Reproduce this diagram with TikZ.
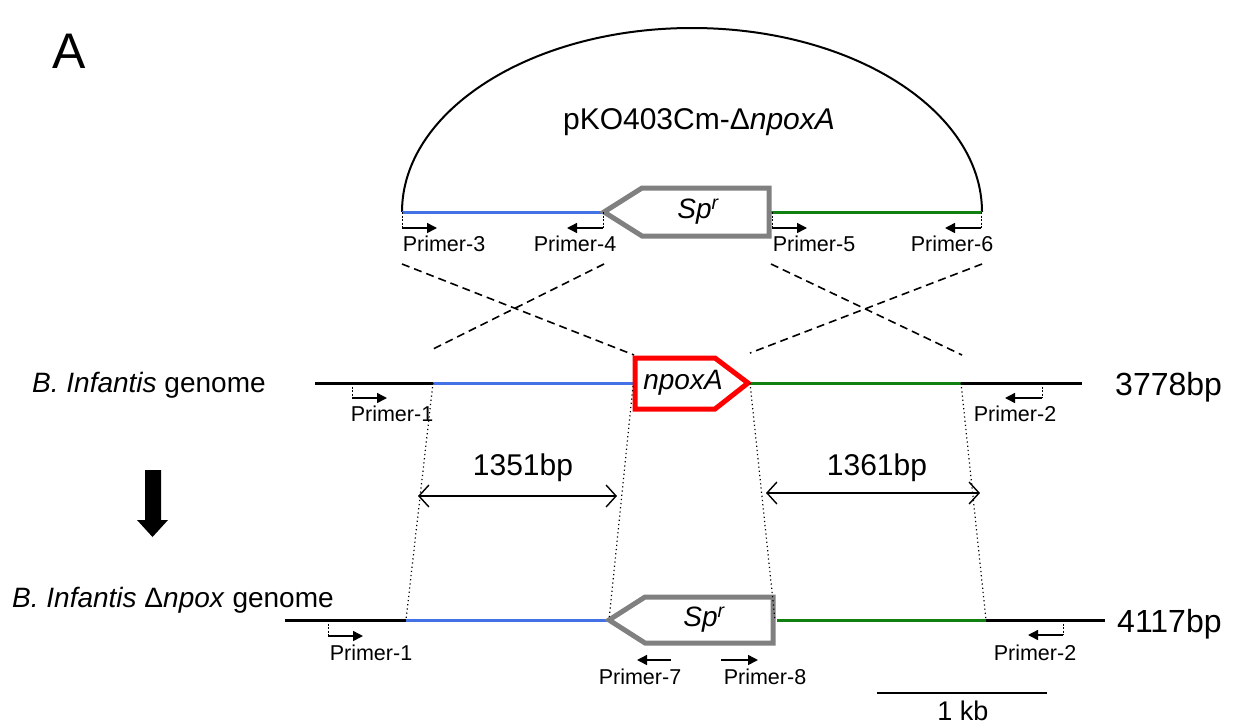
\documentclass[tikz,border=0pt]{standalone}
\usepackage{fontspec}
\setmainfont{Liberation Sans}
\usetikzlibrary{arrows.meta}
\definecolor{segblue}{RGB}{66,114,230}
\definecolor{seggreen}{RGB}{16,128,16}
\definecolor{boxred}{RGB}{255,0,0}
\definecolor{boxgrey}{RGB}{128,128,128}
\newcommand\prfont{\fontsize{21.5}{25}\selectfont}
\begin{document}
\begin{tikzpicture}[x=1pt,y=-1pt,
  seg/.style={line width=3pt},
  bluseg/.style={seg,draw=segblue},
  grnseg/.style={seg,draw=seggreen},
  blkseg/.style={seg,draw=black},
  genebox/.style={line width=5pt,line join=miter},
  tick/.style={line width=0.9pt,dash pattern=on 2pt off 1.5pt},
  primarrow/.style={line width=1.5pt,-{Triangle[length=10pt,width=10pt]}},
  primlabel/.style={inner sep=0pt,anchor=base,font=\prfont},
  cross/.style={line width=1.6pt,dash pattern=on 8pt off 5pt},
  guide/.style={line width=1.2pt,dash pattern=on 1.2pt off 3pt},
  span/.style={line width=1.4pt,{Straight Barb[length=10pt,width=22pt]}-{Straight Barb[length=10pt,width=22pt]}},
  lbl/.style={inner sep=0pt}]
\useasboundingbox (0,0) rectangle (1233,726);

% panel letter
\node[lbl,font=\fontsize{50}{60}\selectfont] (panel) at (69,51) {A};

% ---------------- plasmid ----------------
\coordinate (t1) at (402,212);
\coordinate (t2) at (604,212);
\coordinate (t3) at (771,212);
\coordinate (t4) at (982,212);
\draw[line width=2pt] (t1) arc[start angle=180,end angle=0,x radius=290pt,y radius=184pt] coordinate (arcend);
\node[lbl,font=\fontsize{30}{36}\selectfont] (plasmid) at (699,122) {pKO403Cm-Δ\textit{npoxA}};
\draw[bluseg] (t1) -- (t2);
\draw[grnseg] (t3) -- (t4);
\draw[genebox,draw=boxgrey] (t2) -- (642,188) -- (769,188) -- (769,236) -- (642,236) -- cycle;
\node[lbl,font=\fontsize{28}{34}\selectfont\itshape] (spA) at (698,212) {Sp\textsuperscript{r}};

% primers top
\coordinate (p3a) at (402,228); \coordinate (p3b) at (437,228);
\coordinate (p4a) at (603,228); \coordinate (p4b) at (567,228);
\coordinate (p5a) at (772,228); \coordinate (p5b) at (807,228);
\coordinate (p6a) at (981,228); \coordinate (p6b) at (945,228);
\draw[tick] (t1) -- (p3a);
\draw[tick] (603,212) -- (p4a);
\draw[tick] (772,212) -- (p5a);
\draw[tick] (981,212) -- (p6a);
\draw[primarrow] (p3a) -- (p3b);
\draw[primarrow] (p4a) -- (p4b);
\draw[primarrow] (p5a) -- (p5b);
\draw[primarrow] (p6a) -- (p6b);
\node[primlabel] (l3) at (444,251) {Primer-3};
\node[primlabel] (l4) at (575,251) {Primer-4};
\node[primlabel] (l5) at (814,251) {Primer-5};
\node[primlabel] (l6) at (952,251) {Primer-6};

% crossover lines
\coordinate (c1) at (402,264); \coordinate (c2) at (604,264);
\coordinate (c3) at (771,264); \coordinate (c4) at (982,264);
\coordinate (d1) at (634,355); \coordinate (d2) at (431,350);
\coordinate (d3) at (962,355); \coordinate (d4) at (750,353);
\draw[cross] (c1) -- (d1);
\draw[cross] (c2) -- (d2);
\draw[cross] (c3) -- (d3);
\draw[cross] (c4) -- (d4);

% ---------------- wild type genome ----------------
\coordinate (g0) at (315,383);
\coordinate (g1) at (433,383);
\coordinate (g2) at (635,383);
\coordinate (g3) at (750,383);
\coordinate (g4) at (961,383);
\coordinate (g5) at (1082,383);
\draw[blkseg] (g0) -- (g1);
\draw[bluseg] (g1) -- (g2);
\draw[grnseg] (g3) -- (g4);
\draw[blkseg] (g4) -- (g5);
\draw[genebox,draw=boxred] (635,358) -- (715,358) -- (748,383) -- (715,409) -- (635,409) -- cycle;
\node[lbl,font=\fontsize{28}{34}\selectfont\itshape] (npox) at (683,383) {npoxA};
\node[lbl,anchor=base west,font=\fontsize{28}{34}\selectfont] (wtlabel) at (32,392) {\textit{B. Infantis} genome};
\node[lbl,anchor=base west,font=\fontsize{32}{38}\selectfont] (wtsize) at (1115,395) {3778bp};

\coordinate (p1a) at (352,398); \coordinate (p1b) at (387,398);
\coordinate (p2a) at (1042,398); \coordinate (p2b) at (1005,398);
\draw[tick] (352,383) -- (p1a);
\draw[tick] (1042,383) -- (p2a);
\draw[primarrow] (p1a) -- (p1b);
\draw[primarrow] (p2a) -- (p2b);
\node[primlabel] (l1) at (392,421) {Primer-1};
\node[primlabel] (l2) at (1015,421) {Primer-2};

% ---------------- mutant genome ----------------
\coordinate (m0) at (285,620);
\coordinate (m1) at (406,620);
\coordinate (m2) at (609,620);
\coordinate (m3) at (777,620);
\coordinate (m4) at (986,620);
\coordinate (m5) at (1105,620);
\draw[blkseg] (m0) -- (m1);
\draw[bluseg] (m1) -- (m2);
\draw[grnseg] (m3) -- (m4);
\draw[blkseg] (m4) -- (m5);
\draw[genebox,draw=boxgrey] (m2) -- (645,597) -- (773,597) -- (773,643) -- (645,643) -- cycle;
\node[lbl,font=\fontsize{28}{34}\selectfont\itshape] (spB) at (704,620) {Sp\textsuperscript{r}};
\node[lbl,anchor=base west,font=\fontsize{28}{34}\selectfont] (mutlabel) at (12,607) {\textit{B. Infantis} Δ\textit{npox} genome};
\node[lbl,anchor=base west,font=\fontsize{32}{38}\selectfont] (mutsize) at (1117,632) {4117bp};

\coordinate (q1a) at (328,636); \coordinate (q1b) at (363,636);
\coordinate (q2a) at (1063,635); \coordinate (q2b) at (1028,635);
\coordinate (q7a) at (671,660); \coordinate (q7b) at (637,660);
\coordinate (q8a) at (721,660); \coordinate (q8b) at (758,660);
\draw[tick] (328,620) -- (q1a);
\draw[tick] (1063,620) -- (q2a);
\draw[primarrow] (q1a) -- (q1b);
\draw[primarrow] (q2a) -- (q2b);
\draw[primarrow] (q7a) -- (q7b);
\draw[primarrow] (q8a) -- (q8b);
\node[primlabel] (k1) at (371,660) {Primer-1};
\node[primlabel] (k2) at (1035,660) {Primer-2};
\node[primlabel] (k7) at (640,684) {Primer-7};
\node[primlabel] (k8) at (765,684) {Primer-8};

% guides between genomes
\draw[guide] (g1) -- (m1);
\draw[guide] (633,386) -- (m2);
\draw[guide] (g3) -- (775,620);
\draw[guide] (g4) -- (m4);

% sizes
\coordinate (s1) at (418,496); \coordinate (s2) at (617,496);
\coordinate (s3) at (766,493); \coordinate (s4) at (980,493);
\draw[span] (s1) -- (s2);
\draw[span] (s3) -- (s4);
\node[lbl,font=\fontsize{30}{36}\selectfont] (len1) at (523,468) {1351bp};
\node[lbl,font=\fontsize{30}{36}\selectfont] (len2) at (877,468) {1361bp};

% big arrow
\fill (145,470) -- (161,470) -- (161,520) -- (168,520) -- (152.5,537) -- (137,520) -- (145,520) -- cycle;

% scale bar
\coordinate (sb1) at (877,693); \coordinate (sb2) at (1047,693);
\draw[line width=1.5pt] (sb1) -- (sb2);
\node[lbl,font=\fontsize{27}{32}\selectfont] (kb) at (963,711) {1 kb};
\end{tikzpicture}
\end{document}
